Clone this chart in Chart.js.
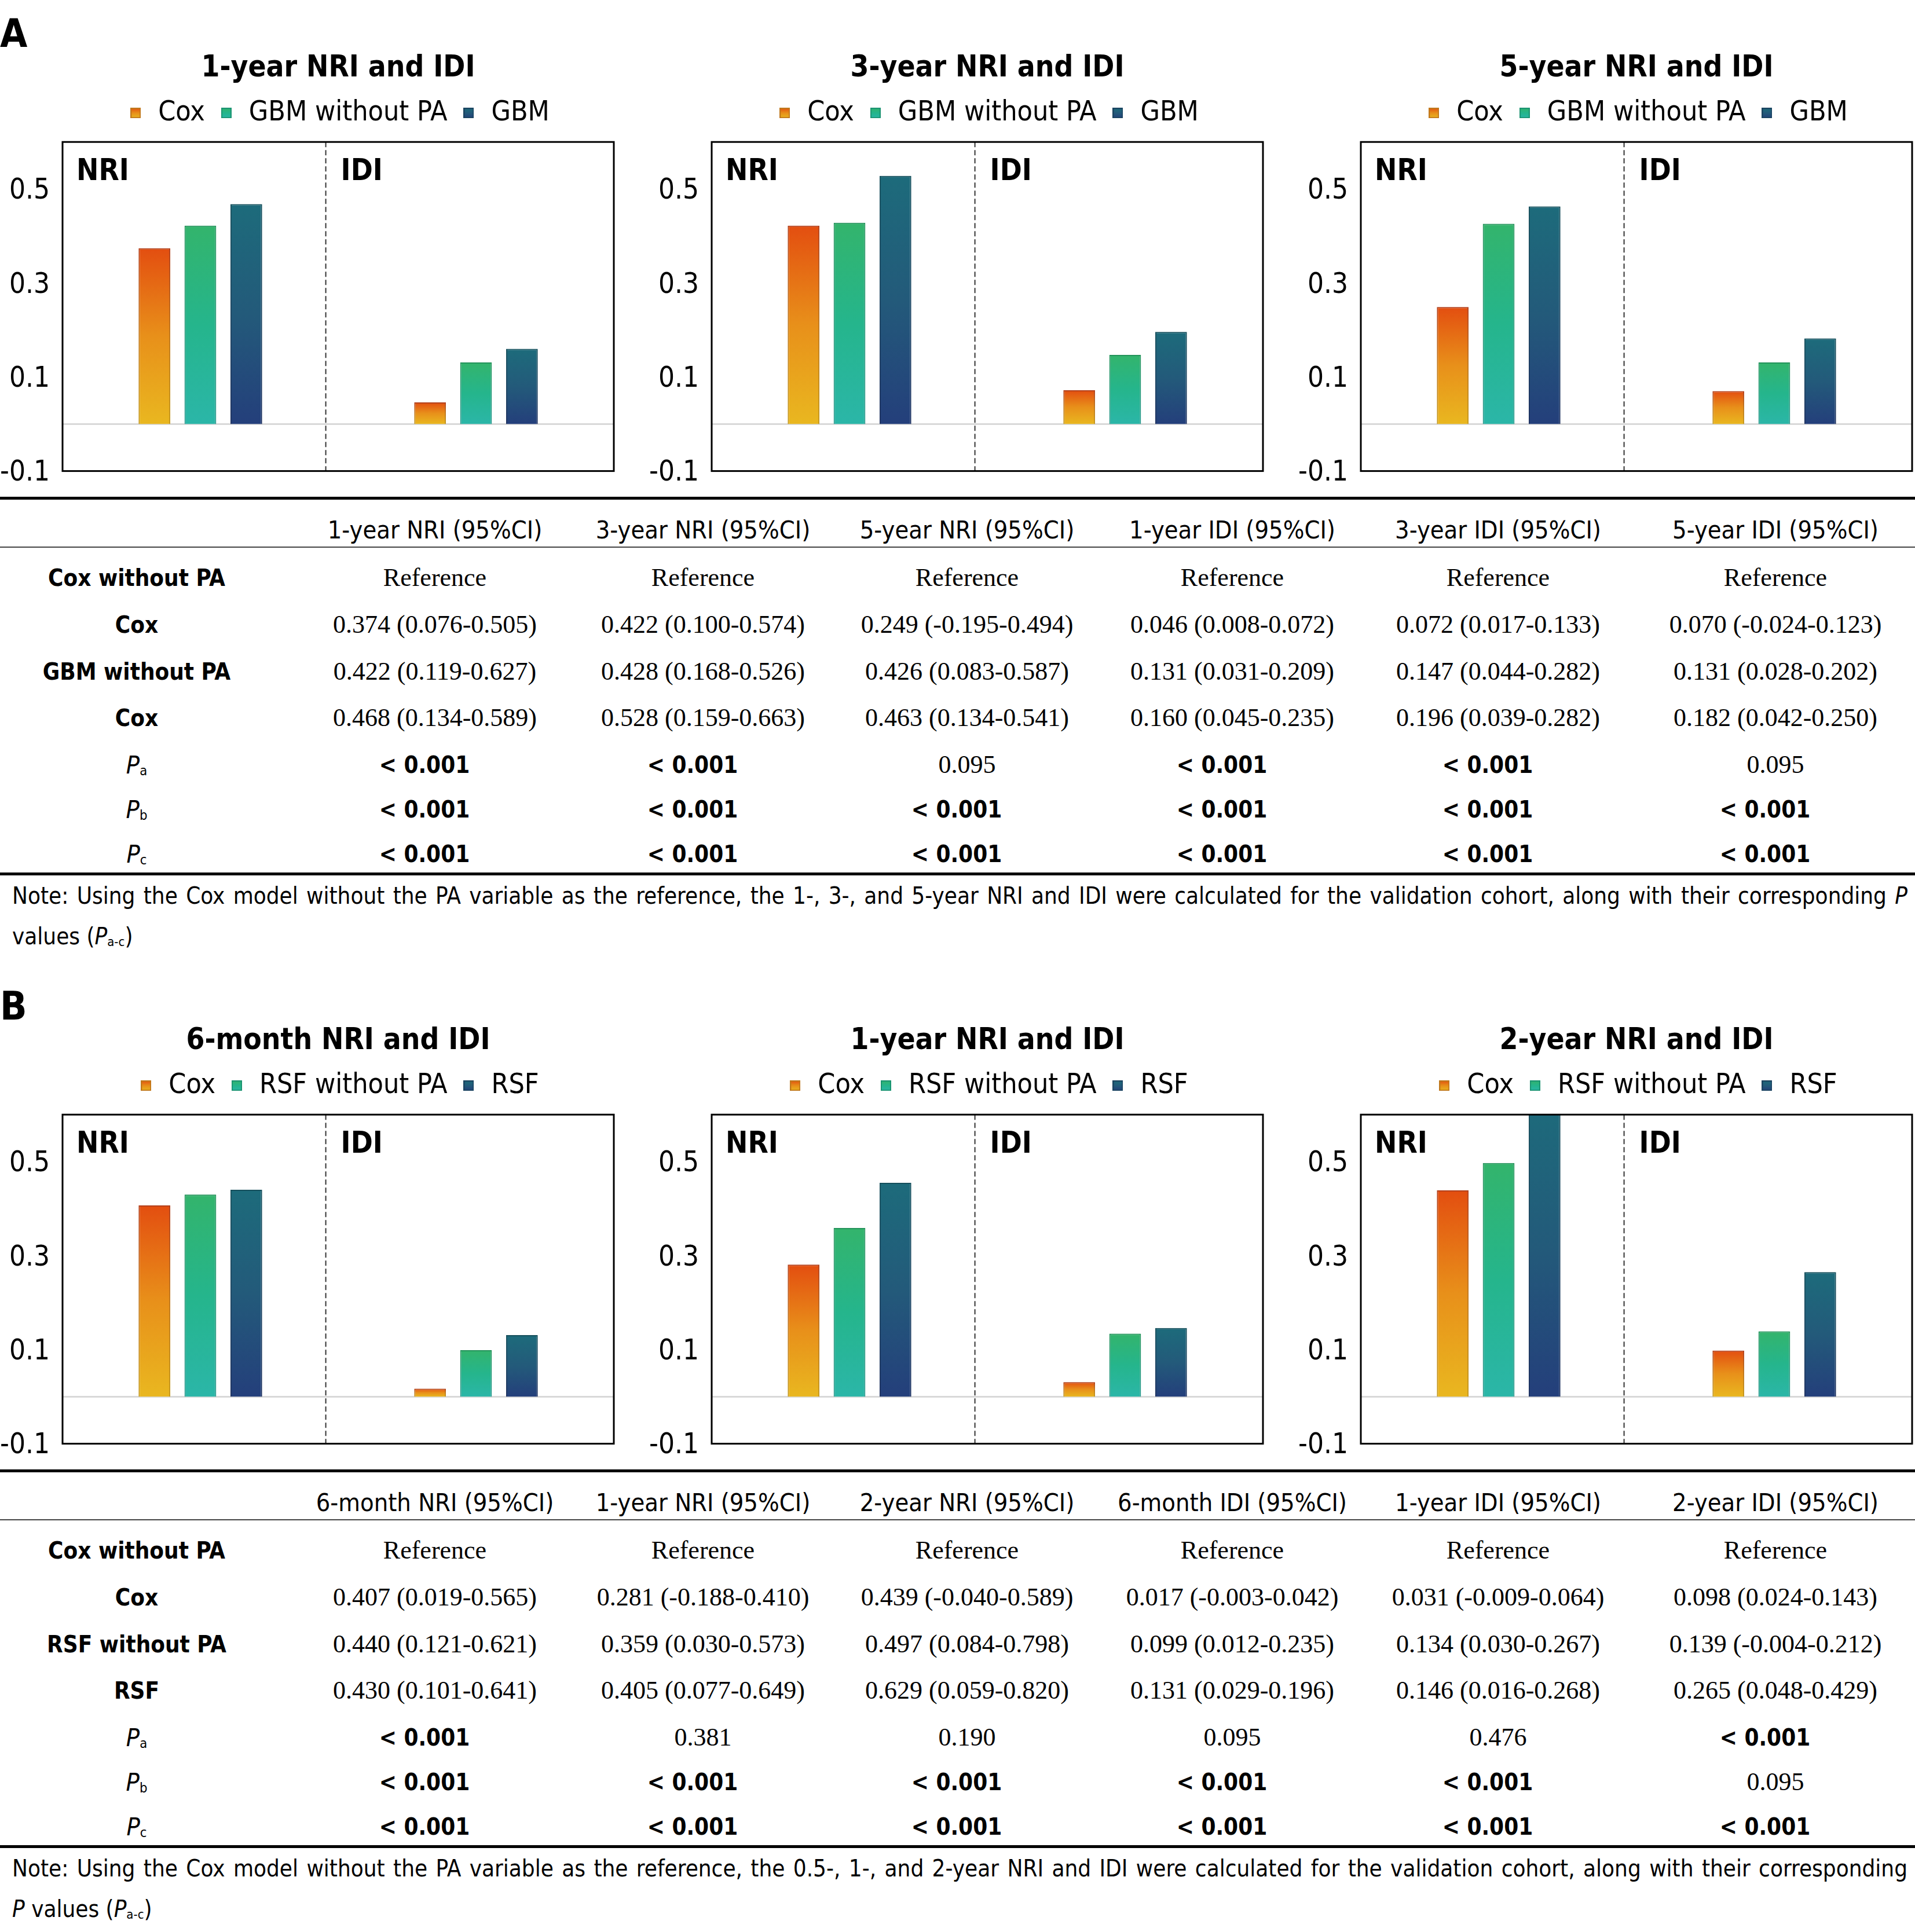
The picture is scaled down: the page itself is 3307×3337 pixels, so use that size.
<!DOCTYPE html>
<html>
<head>
<meta charset="utf-8">
<script src="https://cdn.jsdelivr.net/npm/chart.js@4.4.1/dist/chart.umd.min.js"></script>
<style>
  html, body { margin: 0; padding: 0; background: #fff; }
  #page { position: relative; width: 3307px; height: 3337px; overflow: hidden; background: #fff; color: #000;
          font-family: 'DejaVu Sans Condensed', 'DejaVu Sans', sans-serif; }
  .letter { position: absolute; left: 0; font-size: 68px; line-height: 68px; font-weight: bold; }
  .chartbox { position: absolute; width: 1064px; height: 805px; }
  .rule { position: absolute; left: 0; width: 3307px; background: #000; }
  .cell { position: absolute; width: 900px; height: 60px; line-height: 60px; text-align: center; white-space: nowrap; }
  .hdr { font-size: 43px; }
  .lbl { font-size: 40px; font-weight: bold; }
  .val { font-family: 'Liberation Serif', serif; font-size: 44px; }
  .pv { font-size: 40px; font-weight: bold; }
  .note { position: absolute; left: 21px; width: 3273px; height: 60px; line-height: 60px; font-size: 40px; white-space: nowrap; }
  .note.full { text-align: justify; text-align-last: justify; }
  sub { font-size: 0.55em; vertical-align: -0.12em; font-style: normal; }
</style>
</head>
<body>
<div id="page"></div>
<script>
const FONT = "'DejaVu Sans Condensed', 'DejaVu Sans', sans-serif";

// chart data
const groups = ['NRI', 'IDI'];
const yTicks = [-0.1, 0.1, 0.3, 0.5];
const yMin = -0.1;
const yMax = 0.6;

const seriesA = ['Cox', 'GBM without PA', 'GBM'];
const titlesA = ['1-year NRI and IDI', '3-year NRI and IDI', '5-year NRI and IDI'];
// [NRI, IDI] per chart
const coxA = [[0.374, 0.046], [0.422, 0.072], [0.249, 0.070]];
const gbmNoPaA = [[0.422, 0.131], [0.428, 0.147], [0.426, 0.131]];
const gbmA = [[0.468, 0.160], [0.528, 0.196], [0.463, 0.182]];

const seriesB = ['Cox', 'RSF without PA', 'RSF'];
const titlesB = ['6-month NRI and IDI', '1-year NRI and IDI', '2-year NRI and IDI'];
const coxB = [[0.407, 0.017], [0.281, 0.031], [0.439, 0.098]];
const rsfNoPaB = [[0.430, 0.099], [0.359, 0.134], [0.497, 0.139]];
const rsfB = [[0.440, 0.131], [0.455, 0.146], [0.629, 0.265]];

// table data
const headersA = ['1-year NRI (95%CI)', '3-year NRI (95%CI)', '5-year NRI (95%CI)', '1-year IDI (95%CI)', '3-year IDI (95%CI)', '5-year IDI (95%CI)'];
const rowNamesA = ['Cox without PA', 'Cox', 'GBM without PA', 'Cox'];
const refRow = ['Reference', 'Reference', 'Reference', 'Reference', 'Reference', 'Reference'];
const coxRowA = ['0.374 (0.076-0.505)', '0.422 (0.100-0.574)', '0.249 (-0.195-0.494)', '0.046 (0.008-0.072)', '0.072 (0.017-0.133)', '0.070 (-0.024-0.123)'];
const gbmNoPaRowA = ['0.422 (0.119-0.627)', '0.428 (0.168-0.526)', '0.426 (0.083-0.587)', '0.131 (0.031-0.209)', '0.147 (0.044-0.282)', '0.131 (0.028-0.202)'];
const gbmRowA = ['0.468 (0.134-0.589)', '0.528 (0.159-0.663)', '0.463 (0.134-0.541)', '0.160 (0.045-0.235)', '0.196 (0.039-0.282)', '0.182 (0.042-0.250)'];
const paA = ['< 0.001', '< 0.001', '0.095', '< 0.001', '< 0.001', '0.095'];
const pbA = ['< 0.001', '< 0.001', '< 0.001', '< 0.001', '< 0.001', '< 0.001'];
const pcA = ['< 0.001', '< 0.001', '< 0.001', '< 0.001', '< 0.001', '< 0.001'];

const headersB = ['6-month NRI (95%CI)', '1-year NRI (95%CI)', '2-year NRI (95%CI)', '6-month IDI (95%CI)', '1-year IDI (95%CI)', '2-year IDI (95%CI)'];
const rowNamesB = ['Cox without PA', 'Cox', 'RSF without PA', 'RSF'];
const coxRowB = ['0.407 (0.019-0.565)', '0.281 (-0.188-0.410)', '0.439 (-0.040-0.589)', '0.017 (-0.003-0.042)', '0.031 (-0.009-0.064)', '0.098 (0.024-0.143)'];
const rsfNoPaRowB = ['0.440 (0.121-0.621)', '0.359 (0.030-0.573)', '0.497 (0.084-0.798)', '0.099 (0.012-0.235)', '0.134 (0.030-0.267)', '0.139 (-0.004-0.212)'];
const rsfRowB = ['0.430 (0.101-0.641)', '0.405 (0.077-0.649)', '0.629 (0.059-0.820)', '0.131 (0.029-0.196)', '0.146 (0.016-0.268)', '0.265 (0.048-0.429)'];
const paB = ['< 0.001', '0.381', '0.190', '0.095', '0.476', '< 0.001'];
const pbB = ['< 0.001', '< 0.001', '< 0.001', '< 0.001', '< 0.001', '0.095'];
const pcB = ['< 0.001', '< 0.001', '< 0.001', '< 0.001', '< 0.001', '< 0.001'];

const noteA = ['Note: Using the Cox model without the PA variable as the reference, the 1-, 3-, and 5-year NRI and IDI were calculated for the validation cohort, along with their corresponding <i>P</i>',
               'values (<i>P</i><sub>a-c</sub>)'];
const noteB = ['Note: Using the Cox model without the PA variable as the reference, the 0.5-, 1-, and 2-year NRI and IDI were calculated for the validation cohort, along with their corresponding',
               '<i>P</i> values (<i>P</i><sub>a-c</sub>)'];

// colours: top, middle, bottom of each bar
const fills = [
  ['#e34e10', '#e8901a', '#e9b720'],
  ['#33b46c', '#25b58c', '#2bb6a8'],
  ['#1d6b7b', '#235a7a', '#243f7b']
];
const edges = [
  ['#b3401c', '#c0781c', '#c4981c'],
  ['#23935a', '#1c9472', '#21968a'],
  ['#154f5c', '#1a4360', '#1a2e5e']
];

const dividerAt = 0.4775;
const colX = [745, 1208, 1664, 2122, 2581, 3060];
const rowY = [998, 1079, 1160, 1240, 1321, 1398, 1475];

function barPaint(stops) {
  return function (c) {
    const chart = c.chart;
    if (c.type !== 'data' || !chart.chartArea) return stops[1];
    const y = chart.scales.y;
    const top = y.getPixelForValue(c.raw);
    const base = y.getPixelForValue(0);
    if (Math.abs(base - top) < 1) return stops[0];
    const g = chart.ctx.createLinearGradient(0, top, 0, base);
    g.addColorStop(0, stops[0]);
    g.addColorStop(0.5, stops[1]);
    g.addColorStop(1, stops[2]);
    return g;
  };
}

function marker(i) {
  const m = document.createElement('canvas');
  m.width = 18; m.height = 18;
  const g = m.getContext('2d');
  const gr = g.createLinearGradient(0, 0, 0, 18);
  gr.addColorStop(0, fills[i][0]);
  gr.addColorStop(0.5, fills[i][1]);
  gr.addColorStop(1, fills[i][2]);
  g.fillStyle = gr;
  g.fillRect(0, 0, 18, 18);
  g.strokeStyle = edges[i][1];
  g.lineWidth = 2;
  g.strokeRect(1, 1, 16, 16);
  return m;
}
const markers = [marker(0), marker(1), marker(2)];

const framePlugin = {
  id: 'frame',
  beforeDatasetsDraw(chart) {
    const { ctx, chartArea: a, scales: { y } } = chart;
    const y0 = y.getPixelForValue(0);
    ctx.save();
    ctx.strokeStyle = '#d9d9d9';
    ctx.lineWidth = 3;
    ctx.beginPath();
    ctx.moveTo(a.left, y0);
    ctx.lineTo(a.right, y0);
    ctx.stroke();
    ctx.restore();
  },
  afterDatasetsDraw(chart) {
    const { ctx, chartArea: a } = chart;
    const xd = a.left + (a.right - a.left) * dividerAt;
    ctx.save();
    ctx.strokeStyle = '#333';
    ctx.lineWidth = 2;
    ctx.setLineDash([9, 5]);
    ctx.beginPath();
    ctx.moveTo(xd, a.top);
    ctx.lineTo(xd, a.bottom);
    ctx.stroke();
    ctx.setLineDash([]);
    ctx.strokeStyle = '#000';
    ctx.lineWidth = 3;
    ctx.strokeRect(a.left, a.top, a.right - a.left, a.bottom - a.top);
    ctx.fillStyle = '#000';
    ctx.font = 'bold 51px ' + FONT;
    ctx.textBaseline = 'alphabetic';
    ctx.fillText(groups[0], a.left + 24, a.top + 66);
    ctx.fillText(groups[1], xd + 26, a.top + 66);
    ctx.restore();
  }
};

const page = document.getElementById('page');

function makeChart(left, top, title, names, values) {
  const holder = document.createElement('div');
  holder.className = 'chartbox';
  holder.style.left = left + 'px';
  holder.style.top = top + 'px';
  const cv = document.createElement('canvas');
  holder.appendChild(cv);
  page.appendChild(holder);

  new Chart(cv, {
    type: 'bar',
    data: {
      labels: groups,
      datasets: names.map((n, i) => ({
        label: n,
        data: values[i],
        backgroundColor: barPaint(fills[i]),
        borderColor: barPaint(edges[i]),
        borderWidth: 2,
        categoryPercentage: 0.5,
        barPercentage: 0.69
      }))
    },
    options: {
      responsive: true,
      maintainAspectRatio: false,
      animation: false,
      devicePixelRatio: 1,
      layout: { padding: { right: 4 } },
      plugins: {
        title: {
          display: true, text: title, fullSize: false, color: '#000',
          font: { family: FONT, size: 51, weight: 'bold' },
          padding: { top: 28, bottom: 0 }
        },
        legend: {
          position: 'top', fullSize: false,
          labels: {
            usePointStyle: true, pointStyleWidth: 30, boxHeight: 18, padding: 22, color: '#000',
            font: { family: FONT, size: 48 },
            generateLabels: chart => chart.data.datasets.map((ds, i) => ({
              text: ds.label, pointStyle: markers[i], datasetIndex: i, hidden: false,
              lineWidth: 0, fillStyle: 'transparent', strokeStyle: 'transparent', fontColor: '#000'
            }))
          }
        },
        tooltip: { enabled: false }
      },
      scales: {
        x: {
          position: 'top',
          grid: { display: false, drawTicks: false },
          border: { display: false },
          ticks: { display: false },
          afterFit: s => { s.height = 16; }
        },
        y: {
          min: yMin, max: yMax,
          afterBuildTicks: s => { s.ticks = yTicks.map(v => ({ value: v })); },
          afterFit: s => { s.width = 108; },
          grid: { display: false, drawTicks: false },
          border: { display: false },
          ticks: { color: '#000', padding: 22, labelOffset: 4, font: { family: FONT, size: 49 }, callback: v => v.toFixed(1) }
        }
      }
    },
    plugins: [framePlugin]
  });
}

function addDiv(cls, html, top, extra) {
  const d = document.createElement('div');
  d.className = cls;
  d.innerHTML = html;
  d.style.top = top + 'px';
  if (extra) Object.assign(d.style, extra);
  page.appendChild(d);
  return d;
}

function cell(cls, html, cx, cy) {
  addDiv('cell ' + cls, html, cy - 30, { left: (cx - 450) + 'px' });
}

function rule(top, h, color) {
  addDiv('rule', '', top, { height: h + 'px', background: color || '#000' });
}

function buildSection(off, letter, titles, names, s1, s2, s3, headers, rowNames, rows, note) {
  addDiv('letter', letter, off + 24);
  for (let k = 0; k < 3; k++) {
    makeChart(1121 * k, off + 60, titles[k], names, [s1[k], s2[k], s3[k]]);
  }
  rule(off + 858, 5);
  rule(off + 944, 2, '#444');
  rule(off + 1507, 5);
  headers.forEach((h, j) => cell('hdr', h, colX[j] + 6, off + 915));
  const labels = rowNames.concat(['a', 'b', 'c'].map(s => '<i>P</i><sub>' + s + '</sub>'));
  labels.forEach((l, r) => {
    cell(r < 4 ? 'lbl' : 'hdr', l, 236, off + rowY[r]);
    rows[r].forEach((v, j) => {
      const bold = v.startsWith('<');
      cell(bold ? 'pv' : 'val', v.replace('<', '&lt;'), colX[j] + (bold ? -12 : 6), off + rowY[r]);
    });
  });
  addDiv('note full', note[0], off + 1517);
  addDiv('note', note[1], off + 1587);
}

buildSection(0, 'A', titlesA, seriesA, coxA, gbmNoPaA, gbmA, headersA, rowNamesA,
  [refRow, coxRowA, gbmNoPaRowA, gbmRowA, paA, pbA, pcA], noteA);
buildSection(1680, 'B', titlesB, seriesB, coxB, rsfNoPaB, rsfB, headersB, rowNamesB,
  [refRow, coxRowB, rsfNoPaRowB, rsfRowB, paB, pbB, pcB], noteB);
</script>
</body>
</html>
